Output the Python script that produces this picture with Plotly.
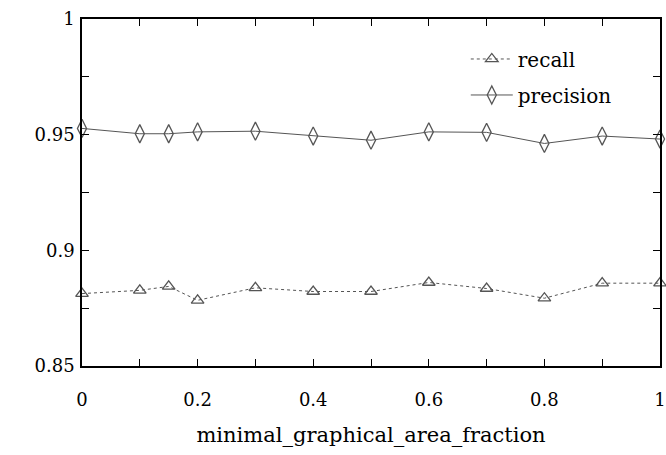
import plotly.graph_objects as go

x_vals = [0, 0.1, 0.15, 0.2, 0.3, 0.4, 0.5, 0.6, 0.7, 0.8, 0.9, 1.0]
recall = [0.8813, 0.8827, 0.8844, 0.8784, 0.8838, 0.8822, 0.8822, 0.8861, 0.8835, 0.8793, 0.8858, 0.8858]
precision = [0.9527, 0.9504, 0.9504, 0.9512, 0.9515, 0.9494, 0.9476, 0.9512, 0.9510, 0.9462, 0.9494, 0.9481]

x_tickvals = [0, 0.1, 0.2, 0.3, 0.4, 0.5, 0.6, 0.7, 0.8, 0.9, 1.0]
x_ticktext = ["0", "", "0.2", "", "0.4", "", "0.6", "", "0.8", "", "1"]
y_tickvals = [0.85, 0.875, 0.9, 0.925, 0.95, 0.975, 1.0]
y_ticktext = ["0.85", "", "0.9", "", "0.95", "", "1"]

FONT = "DejaVu Serif"
LINE = "#555555"

fig = go.Figure()
fig.add_trace(go.Scatter(
    x=x_vals, y=recall, name="recall", mode="lines+markers", legendgroup="a",
    line=dict(color=LINE, width=1, dash="3px,3px"),
    marker=dict(symbol="triangle-up-open", size=11, color=LINE, line=dict(width=1.3, color=LINE)),
    cliponaxis=False,
))
fig.add_trace(go.Scatter(
    x=x_vals, y=precision, name="precision", mode="lines+markers", legendgroup="b",
    line=dict(color=LINE, width=1),
    marker=dict(symbol="diamond-tall-open", size=13, color=LINE, line=dict(width=1.3, color=LINE)),
    cliponaxis=False,
))

axis_common = dict(
    showline=True, linecolor="black", linewidth=1.5, mirror="allticks",
    ticks="inside", ticklen=7, tickwidth=1.3, tickcolor="black",
    showgrid=False, zeroline=False, automargin=False,
    tickfont=dict(family=FONT, size=18, color="black"),
)

fig.update_xaxes(
    range=[0, 1], tickvals=x_tickvals, ticktext=x_ticktext,
    title=dict(text="minimal_graphical_area_fraction", font=dict(family=FONT, size=21, color="black"), standoff=18),
    ticklabelstandoff=17,
    **axis_common,
)
fig.update_yaxes(
    range=[0.85, 1.0], tickvals=y_tickvals, ticktext=y_ticktext,
    ticklabelstandoff=2,
    **axis_common,
)

fig.update_layout(
    width=666, height=455,
    margin=dict(l=82, r=6, t=19, b=89),
    paper_bgcolor="white", plot_bgcolor="white",
    font=dict(family=FONT, size=20, color="black"),
    legend=dict(x=0.664, y=0.941, xanchor="left", yanchor="top", bgcolor="rgba(0,0,0,0)",
                font=dict(family=FONT, size=20, color="black"), tracegroupgap=7,
                traceorder="grouped", itemwidth=42),
)

fig.write_html(
    "out.html",
    config={"displayModeBar": False},
    post_script="document.body.style.margin='0';document.body.style.padding='0';document.body.style.overflow='hidden';",
)
